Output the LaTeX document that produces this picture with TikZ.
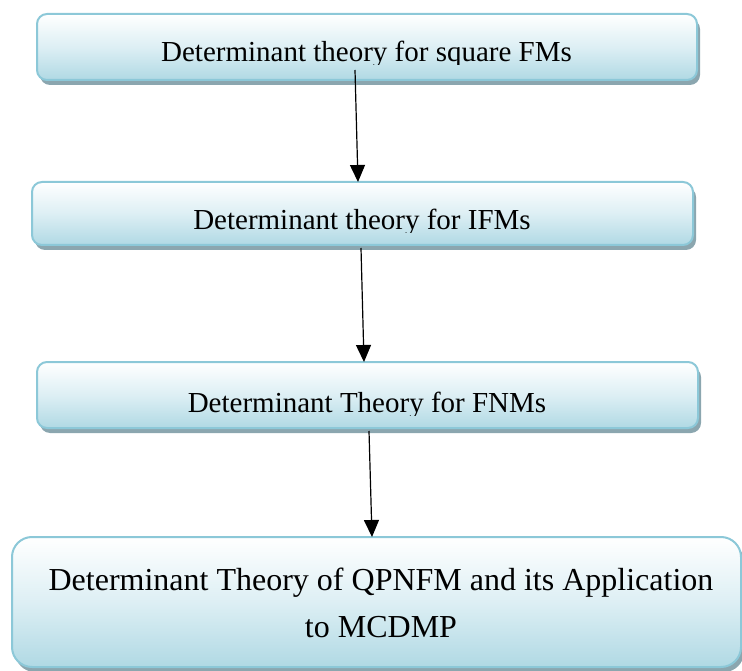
\documentclass[tikz,border=0pt]{standalone}
\usepackage{fontspec}
\setmainfont{Liberation Serif}
\usetikzlibrary{shadows,arrows.meta}
\definecolor{boxline}{HTML}{8CC8D8}
\definecolor{boxbot}{HTML}{B0D9E4}
\definecolor{boxmid}{HTML}{DDEFF4}
\definecolor{boxshadow}{HTML}{8BA6AF}
\tikzset{
  flowbox/.style={rounded corners=10pt, draw=boxline, line width=2pt,
    top color=white, bottom color=boxbot, middle color=boxmid,
    drop shadow={shadow xshift=3pt, shadow yshift=-5pt, fill=boxshadow, opacity=1},
    inner sep=0pt},
  boxtext/.style={anchor=base, inner sep=0pt, font=\fontsize{29}{34}\selectfont},
  bigtext/.style={anchor=base, inner sep=0pt, font=\fontsize{32}{38}\selectfont},
  flowarrow/.style={-{Triangle[length=17pt,width=15pt]}, line width=1.2pt, black}
}
\begin{document}
\begin{tikzpicture}[x=1pt,y={(0pt,-1pt)}]
\useasboundingbox (0,0) rectangle (742,671);
% boxes
\node[flowbox, minimum width=660pt, minimum height=66pt] (b1) at (367,47) {};
\node[flowbox, minimum width=661pt, minimum height=63pt] (b2) at (362.5,213.5) {};
\node[flowbox, minimum width=661pt, minimum height=66pt] (b3) at (367.5,395) {};
\node[flowbox, rounded corners=20pt, drop shadow={shadow xshift=2pt, shadow yshift=-3pt, fill=boxshadow, opacity=1},
      minimum width=729pt, minimum height=130pt] (b4) at (376.5,602) {};
% texts (descenders clipped as in the reference)
\begin{scope}
  \clip (0,0) rectangle (742,65);
  \node[boxtext] (t1) at (366.5,62) {Determinant theory for square FMs};
\end{scope}
\begin{scope}
  \clip (0,150) rectangle (742,233);
  \node[boxtext] (t2) at (362,230) {Determinant theory for IFMs};
\end{scope}
\begin{scope}
  \clip (0,330) rectangle (742,415);
  \node[boxtext] (t3) at (367,412) {Determinant Theory for FNMs};
\end{scope}
\node[bigtext] (t4a) at (381,590) {Determinant Theory of QPNFM and its Application};
\node[bigtext] (t4b) at (381,637) {to MCDMP};
% arrows
\coordinate (s1) at (355,70);
\coordinate (e1) at (358,182);
\coordinate (s2) at (361,248);
\coordinate (e2) at (364,362);
\coordinate (s3) at (369,431);
\coordinate (e3) at (372,537);
\draw[flowarrow] (s1) -- (e1);
\draw[flowarrow] (s2) -- (e2);
\draw[flowarrow] (s3) -- (e3);
\end{tikzpicture}
\end{document}
